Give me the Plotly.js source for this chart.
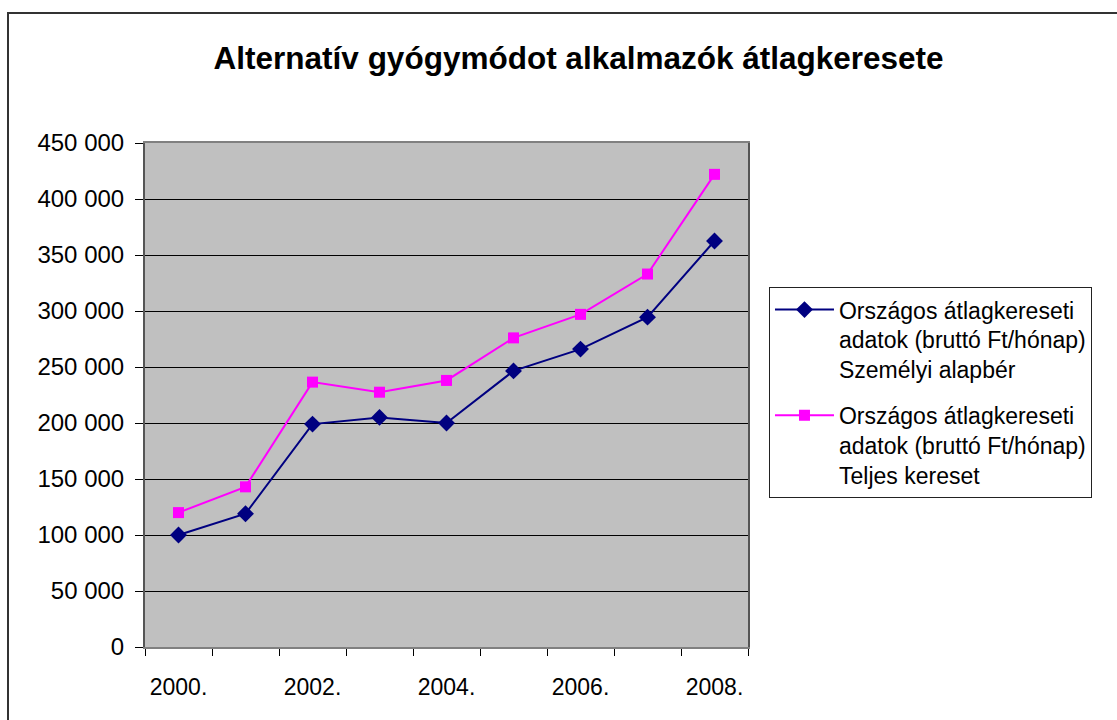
<!DOCTYPE html>
<html>
<head>
<meta charset="utf-8">
<script src="https://cdn.plot.ly/plotly-3.0.1.min.js"></script>
<style>
  html, body { margin: 0; padding: 0; background: #fff; }
  #chart { width: 1117px; height: 720px; }
  #frame { position: absolute; left: 7px; top: 12px; width: 1200px; height: 800px;
           border: 2px solid #333; pointer-events: none; }
</style>
</head>
<body>
<div id="chart"></div>
<div id="frame"></div>
<script>
const years = [2000, 2001, 2002, 2003, 2004, 2005, 2006, 2007, 2008];
const tickYears = [2000, 2002, 2004, 2006, 2008];
const tickLabels = ["2000.", "2002.", "2004.", "2006.", "2008."];
const boundaries = [1999.5, 2000.5, 2001.5, 2002.5, 2003.5, 2004.5, 2005.5, 2006.5, 2007.5, 2008.5];
const alapber = [100000, 119000, 199000, 205000, 200000, 246500, 266000, 294500, 362500];
const teljes = [120000, 143000, 236500, 227500, 238000, 276000, 297000, 333000, 422000];
const name1 = "Országos átlagkereseti<br>adatok (bruttó Ft/hónap)<br>Személyi alapbér";
const name2 = "Országos átlagkereseti<br>adatok (bruttó Ft/hónap)<br>Teljes kereset";
const titleText = "Alternatív gyógymódot alkalmazók átlagkeresete";

const traces = [
  { x: years, y: alapber, name: name1, legendgroup: "a", type: "scatter", mode: "lines+markers",
    line: { color: "#000080", width: 2 },
    marker: { symbol: "diamond", size: 13, color: "#000080" } },
  { x: years, y: teljes, name: name2, legendgroup: "b", type: "scatter", mode: "lines+markers",
    line: { color: "#ff00ff", width: 2 },
    marker: { symbol: "square", size: 11, color: "#ff00ff" } }
];

const layout = {
  width: 1117, height: 720,
  paper_bgcolor: "#ffffff",
  plot_bgcolor: "#c0c0c0",
  separators: ", ",
  margin: { l: 145, r: 369, t: 143, b: 73, autoexpand: false },
  font: { family: "Liberation Sans, Arial, sans-serif", color: "#000" },
  title: { text: "<b>" + titleText + "</b>", x: 0.518, xanchor: "center",
           y: 0.919, yanchor: "middle",
           font: { size: 31.5, family: "Liberation Sans, Arial, sans-serif", color: "#000" } },
  xaxis: {
    range: [1999.5, 2008.5],
    tickvals: tickYears, ticktext: tickLabels,
    ticks: "", showgrid: false, zeroline: false,
    showline: true, linecolor: "#808080", linewidth: 2, mirror: true,
    tickfont: { size: 23, color: "#000" },
    ticklabelstandoff: 18,
    minor: { tickvals: boundaries, ticks: "outside", ticklen: 7, tickcolor: "#000", tickwidth: 1, showgrid: false }
  },
  yaxis: {
    range: [0, 450000], dtick: 50000, tick0: 0,
    tickformat: ",d",
    ticks: "outside", ticklen: 8, tickcolor: "#000", tickwidth: 1,
    showgrid: true, gridcolor: "#000", gridwidth: 1, zeroline: false,
    showline: true, linecolor: "#555", linewidth: 2, mirror: true,
    tickfont: { size: 24, color: "#000" },
    ticklabelstandoff: 6
  },
  showlegend: true,
  legend: {
    x: 1.0348, xanchor: "left", y: 0.714, yanchor: "top",
    bordercolor: "#222", borderwidth: 1, bgcolor: "#ffffff",
    font: { size: 23, color: "#000" },
    valign: "top",
    tracegroupgap: 13, itemwidth: 59
  }
};

Plotly.newPlot("chart", traces, layout, { staticPlot: true, displayModeBar: false });
</script>
</body>
</html>
